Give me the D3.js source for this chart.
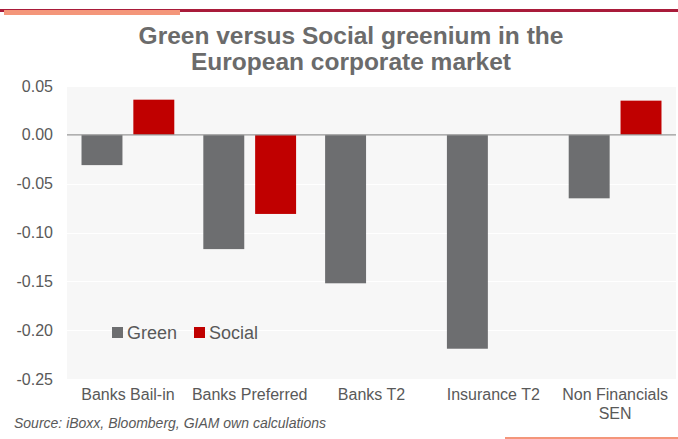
<!DOCTYPE html>
<html>
<head>
<meta charset="utf-8">
<script src="https://cdn.jsdelivr.net/npm/d3@7"></script>
<style>
    body { margin: 0; background: #fff; }
    svg { display: block; font-family: "Liberation Sans", Arial, sans-serif; }
</style>
</head>
<body>
<svg id="chart" width="678" height="439"></svg>
<script>
const categories = ["Banks Bail-in", "Banks Preferred", "Banks T2", "Insurance T2", "Non Financials\nSEN"];
const seriesNames = ["Green", "Social"];
const greenValues = [-0.031, -0.117, -0.152, -0.219, -0.065];
const socialValues = [0.036, -0.081, null, null, 0.035];
const yTicks = [0.05, 0.00, -0.05, -0.10, -0.15, -0.20, -0.25];

const seriesColors = {Green: "#6d6e70", Social: "#c00000"};
const textColor = "#595959";

const svg = d3.select("#chart");
const W = 678, H = 439;
const plot = {left: 67, right: 676, top: 86, bottom: 379};

// decorative header / footer rules
svg.append("rect").attr("x", 0).attr("y", 9).attr("width", W).attr("height", 3).attr("fill", "#a91b3a");
svg.append("rect").attr("x", 4).attr("y", 10).attr("width", 176).attr("height", 5).attr("fill", "#f4967a");
svg.append("rect").attr("x", 505).attr("y", 437).attr("width", 173).attr("height", 2).attr("fill", "#f4967a");

// title
const title = svg.append("text")
    .attr("text-anchor", "middle")
    .attr("font-weight", "bold")
    .attr("font-size", 24.5)
    .attr("fill", "#6b6b6b");
title.append("tspan").attr("x", 351).attr("y", 44).text("Green versus Social greenium in the");
title.append("tspan").attr("x", 351).attr("y", 70).text("European corporate market");

const y = d3.scaleLinear()
    .domain([-0.25, 0.05])
    .range([plot.bottom, plot.top]);

const x = d3.scaleBand()
    .domain(categories)
    .range([plot.left, plot.right])
    .padding(0);

const xSub = d3.scaleBand()
    .domain(seriesNames)
    .range([0, x.bandwidth()])
    .paddingInner(0.21)
    .paddingOuter(0.28);

// plot background
svg.append("rect")
    .attr("x", plot.left).attr("y", plot.top)
    .attr("width", plot.right - plot.left).attr("height", plot.bottom - plot.top)
    .attr("fill", "#f7f7f7");

// gridlines
svg.append("g")
    .selectAll("line")
    .data(yTicks.filter(t => t !== 0))
    .join("line")
    .attr("x1", plot.left).attr("x2", plot.right)
    .attr("y1", d => Math.round(y(d)) + 0.5).attr("y2", d => Math.round(y(d)) + 0.5)
    .attr("stroke", "#ffffff")
    .attr("stroke-width", 1);

// y axis labels
const yAxis = svg.append("g")
    .attr("transform", "translate(" + plot.left + ",0)")
    .call(d3.axisLeft(y).tickValues(yTicks).tickSize(0).tickPadding(14).tickFormat(d3.format(".2f")));
yAxis.select(".domain").remove();
yAxis.selectAll("text")
    .attr("font-size", 16)
    .attr("font-family", "Liberation Sans, Arial, sans-serif")
    .attr("fill", textColor)
    .text(d => d3.format(".2f")(d).replace("−", "-"));

// bars
const rows = categories.map((c, i) => ({category: c, Green: greenValues[i], Social: socialValues[i]}));
const groups = svg.append("g")
    .selectAll("g")
    .data(rows)
    .join("g")
    .attr("transform", d => "translate(" + x(d.category) + ",0)");

groups.selectAll("rect")
    .data(d => seriesNames.map(s => ({key: s, value: d[s]})).filter(e => e.value != null))
    .join("rect")
    .attr("x", d => xSub(d.key))
    .attr("width", xSub.bandwidth())
    .attr("y", d => y(Math.max(0, d.value)))
    .attr("height", d => Math.abs(y(d.value) - y(0)))
    .attr("fill", d => seriesColors[d.key]);

// zero line
svg.append("line")
    .attr("x1", plot.left).attr("x2", plot.right)
    .attr("y1", y(0)).attr("y2", y(0))
    .attr("stroke", "#999999")
    .attr("stroke-width", 1.2);

// x labels
const xLabels = svg.append("g")
    .selectAll("text")
    .data(categories)
    .join("text")
    .attr("text-anchor", "middle")
    .attr("font-size", 16)
    .attr("fill", textColor);
xLabels.each(function (d) {
    const lines = d.split("\n");
    const t = d3.select(this);
    lines.forEach((line, i) => {
        t.append("tspan")
            .attr("x", x(d) + x.bandwidth() / 2)
            .attr("y", 400 + i * 19)
            .text(line);
    });
});

// legend
const legend = svg.append("g").attr("transform", "translate(112,327)");
const legendItems = legend.selectAll("g")
    .data(seriesNames)
    .join("g")
    .attr("transform", (d, i) => "translate(" + (i * 82) + ",0)");
legendItems.append("rect")
    .attr("width", 11).attr("height", 11)
    .attr("fill", d => seriesColors[d]);
legendItems.append("text")
    .attr("x", 15).attr("y", 12)
    .attr("font-size", 18)
    .attr("fill", textColor)
    .text(d => d);

// source
svg.append("text")
    .attr("x", 14).attr("y", 428)
    .attr("font-size", 14)
    .attr("font-style", "italic")
    .attr("fill", textColor)
    .text("Source: iBoxx, Bloomberg, GIAM own calculations");
</script>
</body>
</html>
